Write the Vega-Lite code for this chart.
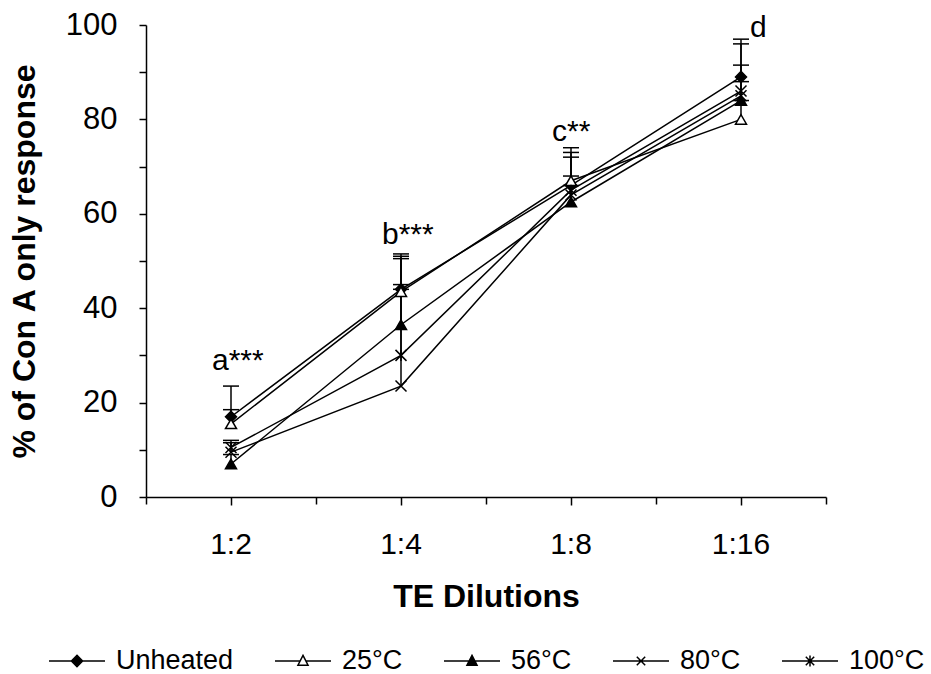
{
  "$schema": "https://vega.github.io/schema/vega-lite/v6.json",
  "autosize": {"type": "none"},
  "width": 680,
  "height": 472,
  "padding": {"left": 146, "top": 25, "right": 105, "bottom": 177},
  "background": "white",
  "config": {
    "view": {"stroke": null},
    "font": "Liberation Sans",
    "axis": {"domainColor": "black", "domainWidth": 1.5, "tickColor": "black", "tickWidth": 1.5, "labelColor": "black", "titleColor": "black", "grid": false, "labelFont": "Liberation Sans", "titleFont": "Liberation Sans"}
  },
  "datasets": {
    "pts": [
      {"dilution": "1:2", "series": "Unheated", "value": 17, "upper": 23.5},
      {"dilution": "1:2", "series": "25°C", "value": 15.5, "upper": 18.5},
      {"dilution": "1:2", "series": "56°C", "value": 7, "upper": 9},
      {"dilution": "1:2", "series": "80°C", "value": 9.5, "upper": 11.5},
      {"dilution": "1:2", "series": "100°C", "value": 10.5, "upper": 12},
      {"dilution": "1:4", "series": "Unheated", "value": 44, "upper": 51.5},
      {"dilution": "1:4", "series": "25°C", "value": 43.5, "upper": 51},
      {"dilution": "1:4", "series": "56°C", "value": 36.5, "upper": 44},
      {"dilution": "1:4", "series": "80°C", "value": 23.5, "upper": 50.5},
      {"dilution": "1:4", "series": "100°C", "value": 30, "upper": 45},
      {"dilution": "1:8", "series": "Unheated", "value": 66, "upper": 73},
      {"dilution": "1:8", "series": "25°C", "value": 67, "upper": 74},
      {"dilution": "1:8", "series": "56°C", "value": 62.5, "upper": 72},
      {"dilution": "1:8", "series": "80°C", "value": 64, "upper": 66},
      {"dilution": "1:8", "series": "100°C", "value": 65, "upper": 68},
      {"dilution": "1:16", "series": "Unheated", "value": 89, "upper": 97},
      {"dilution": "1:16", "series": "25°C", "value": 80, "upper": 84},
      {"dilution": "1:16", "series": "56°C", "value": 84, "upper": 91.5},
      {"dilution": "1:16", "series": "80°C", "value": 85, "upper": 96},
      {"dilution": "1:16", "series": "100°C", "value": 86, "upper": 88}
    ],
    "notes": [
      {"dilution": "1:2", "label": "a***", "y": 27},
      {"dilution": "1:4", "label": "b***", "y": 53.5},
      {"dilution": "1:8", "label": "c**", "y": 75.5}
    ],
    "notes2": [
      {"dilution": "1:16", "label": "d", "y": 97.5}
    ]
  },
  "resolve": {"axis": {"x": "independent"}, "scale": {"shape": "independent", "fill": "independent"}},
  "layer": [
    {
      "data": {"name": "pts"},
      "mark": {"type": "rule", "color": "black", "strokeWidth": 1.5},
      "encoding": {
        "x": {"field": "dilution", "type": "ordinal", "sort": ["1:2", "1:4", "1:8", "1:16"], "scale": {"type": "band", "paddingInner": 0, "paddingOuter": 0},
          "axis": {"orient": "bottom", "tickBand": "extent", "labels": false, "domain": false, "title": null, "tickSize": 7}},
        "y": {"field": "value", "type": "quantitative"},
        "y2": {"field": "upper"}
      }
    },
    {
      "data": {"name": "pts"},
      "mark": {"type": "tick", "color": "black", "thickness": 1.5, "size": 16, "opacity": 1},
      "encoding": {
        "x": {"field": "dilution", "type": "ordinal", "sort": ["1:2", "1:4", "1:8", "1:16"], "axis": null},
        "y": {"field": "upper", "type": "quantitative"}
      }
    },
    {
      "data": {"name": "pts"},
      "mark": {"type": "line", "color": "black", "strokeWidth": 1.5},
      "encoding": {
        "x": {"field": "dilution", "type": "ordinal", "sort": ["1:2", "1:4", "1:8", "1:16"],
          "axis": {"orient": "bottom", "title": "TE Dilutions", "labelAngle": 0, "labelFontSize": 30, "labelPadding": 24, "tickSize": 8, "titleFontSize": 32, "titleFontWeight": "bold", "titlePadding": 22}},
        "y": {"field": "value", "type": "quantitative", "scale": {"domain": [0, 100], "nice": false},
          "axis": {"title": "% of Con A only response", "values": [0, 10, 20, 30, 40, 50, 60, 70, 80, 90, 100], "labelExpr": "datum.value % 20 === 0 ? datum.label : ''", "labelFontSize": 31, "labelPadding": 22, "tickSize": 7, "titleFontSize": 32, "titleFontWeight": "bold", "titlePadding": 24}},
        "detail": {"field": "series"}
      }
    },
    {
      "data": {"name": "pts"},
      "mark": {"type": "point", "filled": false, "stroke": "black", "strokeWidth": 1.5, "opacity": 1, "size": 121},
      "encoding": {
        "x": {"field": "dilution", "type": "ordinal", "sort": ["1:2", "1:4", "1:8", "1:16"], "axis": null},
        "y": {"field": "value", "type": "quantitative"},
        "fill": {"field": "series", "type": "nominal", "legend": null,
          "scale": {"domain": ["Unheated", "25°C", "56°C", "80°C", "100°C"], "range": ["black", "white", "black", "transparent", "transparent"]}},
        "shape": {"field": "series", "type": "nominal", "legend": null,
          "scale": {"domain": ["Unheated", "25°C", "56°C", "80°C", "100°C"], "range": ["diamond", "triangle-up", "triangle-up", "M-1,-1L1,1M-1,1L1,-1", "M-1,-1L1,1M-1,1L1,-1M0,-1L0,1"]}}
      }
    },
    {
      "data": {"name": "pts"},
      "mark": {"type": "point", "filled": false, "stroke": "black", "strokeWidth": 1.5, "opacity": 0, "size": 3136},
      "encoding": {
        "x": {"field": "dilution", "type": "ordinal", "sort": ["1:2", "1:4", "1:8", "1:16"], "axis": null},
        "y": {"field": "value", "type": "quantitative"},
        "fill": {"field": "series", "type": "nominal",
          "scale": {"domain": ["Unheated", "25°C", "56°C", "80°C", "100°C"], "range": ["black", "white", "black", "transparent", "transparent"]},
          "legend": {"title": null, "orient": "none", "direction": "horizontal", "legendX": -98, "legendY": 607,
            "symbolSize": 3136, "symbolStrokeWidth": 1.5, "symbolStrokeColor": "black", "symbolOpacity": 1, "labelFontSize": 27, "labelFont": "Liberation Sans", "labelColor": "black", "labelOffset": 10, "columnPadding": 38, "labelLimit": 300,
            "encode": {"symbols": {"update": {"stroke": {"value": "black"}, "strokeOpacity": {"value": 1}, "strokeWidth": {"value": 1.5}}}}}},
        "shape": {"field": "series", "type": "nominal",
          "scale": {"domain": ["Unheated", "25°C", "56°C", "80°C", "100°C"], "range": [
            "M-1,0H1M0,-0.2L0.2,0L0,0.2L-0.2,0Z",
            "M-1,0H-0.1M0.1,0H1M0,-0.2L0.18,0.15L-0.18,0.15Z",
            "M-1,0H1M0,-0.2L0.18,0.15L-0.18,0.15Z",
            "M-1,0H1M-0.15,-0.15L0.15,0.15M-0.15,0.15L0.15,-0.15",
            "M-1,0H1M-0.15,-0.15L0.15,0.15M-0.15,0.15L0.15,-0.15M0,-0.2V0.2"]},
          "legend": {"title": null, "orient": "none", "direction": "horizontal", "legendX": -98, "legendY": 607,
            "symbolSize": 3136, "symbolStrokeWidth": 1.5, "symbolStrokeColor": "black", "symbolOpacity": 1, "labelFontSize": 27, "labelFont": "Liberation Sans", "labelColor": "black", "labelOffset": 10, "columnPadding": 38, "labelLimit": 300,
            "encode": {"symbols": {"update": {"stroke": {"value": "black"}, "strokeOpacity": {"value": 1}, "strokeWidth": {"value": 1.5}}}}}}
      }
    },
    {
      "data": {"name": "notes"},
      "mark": {"type": "text", "align": "left", "baseline": "alphabetic", "fontSize": 30, "dx": -19, "color": "black"},
      "encoding": {
        "x": {"field": "dilution", "type": "ordinal", "sort": ["1:2", "1:4", "1:8", "1:16"], "axis": null},
        "y": {"field": "y", "type": "quantitative"},
        "text": {"field": "label"}
      }
    },
    {
      "data": {"name": "notes2"},
      "mark": {"type": "text", "align": "left", "baseline": "alphabetic", "fontSize": 30, "dx": 9, "color": "black"},
      "encoding": {
        "x": {"field": "dilution", "type": "ordinal", "sort": ["1:2", "1:4", "1:8", "1:16"], "axis": null},
        "y": {"field": "y", "type": "quantitative"},
        "text": {"field": "label"}
      }
    }
  ]
}
